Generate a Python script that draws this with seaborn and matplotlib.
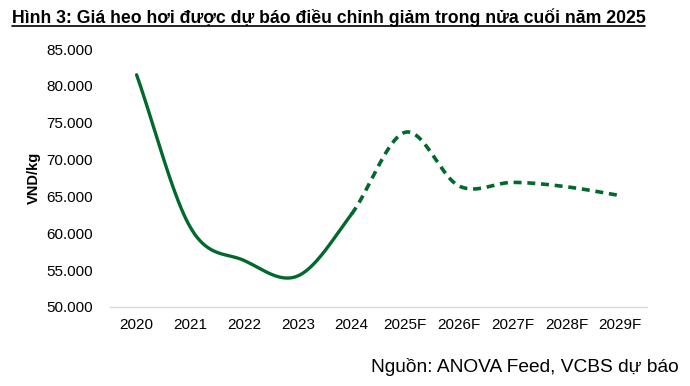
import numpy as np
import pandas as pd
import matplotlib.pyplot as plt
import seaborn as sns
from matplotlib.lines import Line2D
from matplotlib.ticker import FuncFormatter, MultipleLocator

# -----------------------------
# DATA (VND/kg)
# -----------------------------
years = ["2020", "2021", "2022", "2023", "2024",
         "2025F", "2026F", "2027F", "2028F", "2029F"]
price = [81500, 60800, 56300, 54200, 62600,
         73700, 66400, 66900, 66300, 65100]
last_actual = 4  # index of 2024, dashed line after this

title = "Hình 3: Giá heo hơi được dự báo điều chỉnh giảm trong nửa cuối năm 2025"
source = "Nguồn: ANOVA Feed, VCBS dự báo"
green = "#00692B"


# smooth line like Excel (Catmull-Rom through the points)
def smooth(yv, steps=40):
    yv = np.asarray(yv, dtype=float)
    n = len(yv)
    m = np.zeros(n)
    m[1:-1] = (yv[2:] - yv[:-2]) / 2
    m[0] = yv[1] - yv[0]
    m[-1] = yv[-1] - yv[-2]
    xs, ys = [], []
    for i in range(n - 1):
        t = np.linspace(0, 1, steps)
        h00 = 2 * t**3 - 3 * t**2 + 1
        h10 = t**3 - 2 * t**2 + t
        h01 = -2 * t**3 + 3 * t**2
        h11 = t**3 - t**2
        xs.append(i + t)
        ys.append(h00 * yv[i] + h10 * m[i] + h01 * yv[i + 1] + h11 * m[i + 1])
    return np.concatenate(xs), np.concatenate(ys)


sx, sy = smooth(price)
curve = pd.DataFrame({"x": sx, "y": sy})
solid = curve[curve["x"] <= last_actual]
dashed = curve[curve["x"] >= last_actual]

# -----------------------------
# PLOT
# -----------------------------
sns.set_theme(style="white")
plt.rcParams["font.family"] = ["Liberation Sans", "DejaVu Sans"]
plt.rcParams["text.color"] = "black"
plt.rcParams["axes.labelcolor"] = "black"

fig = plt.figure(figsize=(6.9, 3.86), dpi=100)
ax = fig.add_axes([0.159, 0.205, 0.779, 0.668])

sns.lineplot(data=solid, x="x", y="y", ax=ax, color=green,
             linewidth=2.4, sort=False)
sns.lineplot(data=dashed, x="x", y="y", ax=ax, color=green,
             linewidth=2.6, sort=False, linestyle=(0, (2.2, 1.6)))

ax.set_xlim(-0.5, len(years) - 0.5)
ax.set_ylim(50000, 85000)
ax.yaxis.set_major_locator(MultipleLocator(5000))
ax.yaxis.set_major_formatter(FuncFormatter(lambda v, p: f"{v:,.0f}".replace(",", ".")))
ax.set_xticks(range(len(years)))
ax.set_xticklabels(years)
ax.tick_params(axis="both", length=0, labelsize=11, colors="black")
ax.tick_params(axis="x", pad=8)
ax.tick_params(axis="y", pad=12)

ax.set_xlabel("")
ax.set_ylabel("VND/kg", fontsize=10.5, fontweight="bold", labelpad=4)

for side in ["top", "right", "left"]:
    ax.spines[side].set_visible(False)
ax.spines["bottom"].set_color("#d9d9d9")
ax.spines["bottom"].set_linewidth(1.0)

t = fig.text(0.017, 0.955, title, fontsize=12.7, fontweight="bold",
             color="black", ha="left", va="center")
fig.text(0.983, 0.05, source, fontsize=13.8, color="black",
         ha="right", va="center")

# underline the title
fig.canvas.draw()
bb = t.get_window_extent().transformed(fig.transFigure.inverted())
fig.add_artist(Line2D([bb.x0, bb.x1], [bb.y0 + 0.002, bb.y0 + 0.002],
                      transform=fig.transFigure, color="black", linewidth=1.2))

fig.savefig("out.png", dpi=100)
